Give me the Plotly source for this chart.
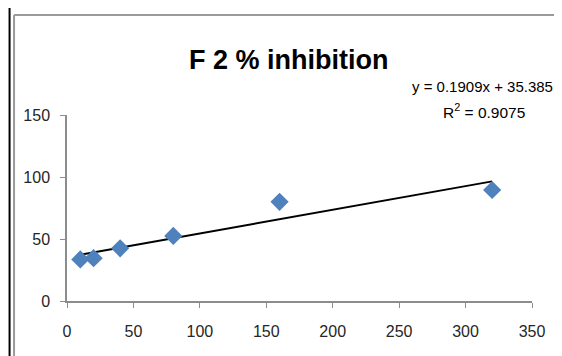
import plotly.graph_objects as go

# Data
concentration = [10, 20, 40, 80, 160, 320]
inhibition = [33.5, 34.5, 42.5, 52.5, 80, 89.5]
slope = 0.1909
intercept = 35.385
r_squared = 0.9075
title_text = "F 2 % inhibition"
x_ticks = [0, 50, 100, 150, 200, 250, 300, 350]
y_ticks = [0, 50, 100, 150]

FONT = "Liberation Sans, Arial, sans-serif"

trend_x = [min(concentration), max(concentration)]
trend_y = [slope * v + intercept for v in trend_x]

fig = go.Figure()
fig.add_trace(go.Scatter(
    x=trend_x, y=trend_y, mode="lines",
    line=dict(color="#000000", width=2), showlegend=False, hoverinfo="skip"))
fig.add_trace(go.Scatter(
    x=concentration, y=inhibition, mode="markers",
    marker=dict(symbol="diamond", size=14, color="#4F81BD"),
    showlegend=False))

OFF = 8  # page body margin
W, H = 562 - OFF, 356 - OFF
# plot area in page pixels
L, R, T, B = 66.5, 532, 115, 301

def px(xp):
    return (xp - L) / (R - L)

def py(yp):
    return (B - yp) / (B - T)

fig.update_layout(
    width=W, height=H,
    margin=dict(l=L - OFF, r=W - (R - OFF), t=T - OFF, b=H - (B - OFF), pad=0),
    paper_bgcolor="white", plot_bgcolor="white",
    font=dict(family=FONT, color="#262626", size=16),
    xaxis=dict(range=[0, 350], tickvals=x_ticks, showgrid=False, zeroline=False,
               showline=True, linecolor="#8c8c8c", linewidth=1.5,
               ticks="outside", ticklen=5, tickcolor="#8c8c8c",
               ticklabelstandoff=10,
               tickfont=dict(family=FONT, size=16, color="#262626")),
    yaxis=dict(range=[0, 150], tickvals=y_ticks, showgrid=False, zeroline=False,
               showline=True, linecolor="#8c8c8c", linewidth=1.5,
               ticks="outside", ticklen=5, tickcolor="#8c8c8c",
               ticklabelstandoff=7,
               tickfont=dict(family=FONT, size=16, color="#262626")),
    shapes=[
        dict(type="line", xref="paper", yref="paper",
             x0=px(9), x1=px(9), y0=py(-2), y1=py(360),
             line=dict(color="#000000", width=2)),
        dict(type="line", xref="paper", yref="paper",
             x0=px(13.5), x1=px(13.5), y0=py(15), y1=py(360),
             line=dict(color="#9a9a9a", width=2)),
        dict(type="line", xref="paper", yref="paper",
             x0=px(13.5), x1=px(570), y0=py(15), y1=py(15),
             line=dict(color="#9a9a9a", width=2)),
    ],
    annotations=[
        dict(text=f"<b>{title_text}</b>", xref="paper", yref="paper",
             x=px(288), y=py(60), xanchor="center", yanchor="middle",
             showarrow=False,
             font=dict(family=FONT, size=27, color="#000000")),
        dict(text=f"y = {slope}x + {intercept}", xref="paper", yref="paper",
             x=px(482), y=py(87), xanchor="center", yanchor="middle",
             showarrow=False,
             font=dict(family=FONT, size=15, color="#000000")),
        dict(text=f"R<sup>2</sup> = {r_squared}", xref="paper", yref="paper",
             x=px(484), y=py(111), xanchor="center", yanchor="middle",
             showarrow=False,
             font=dict(family=FONT, size=15.5, color="#000000")),
    ],
)

fig.write_html("out.html")
